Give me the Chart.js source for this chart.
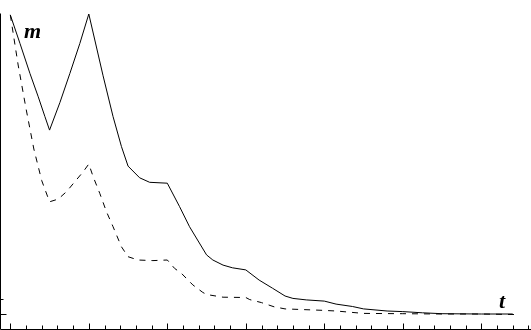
<!DOCTYPE html>
<html><head><meta charset="utf-8">
<script src="https://cdn.jsdelivr.net/npm/chart.js@4/dist/chart.umd.min.js"></script>
<style>html,body{margin:0;padding:0;background:#fff;overflow:hidden}canvas{display:block}</style>
</head><body>
<canvas id="c" width="531" height="330"></canvas>
<script>
// ---- data (t = time, m = quantity) ----
const tSolid = [0, 0.123, 0.25, 0.356, 0.441, 0.5, 0.632, 0.759, 0.886, 1.0, 1.182, 1.309, 1.416, 1.5, 1.648, 1.775, 2.0, 2.156, 2.283, 2.5, 2.58, 2.71, 2.83, 3.0, 3.17, 3.34, 3.5, 3.6, 3.77, 4.0, 4.15, 4.36, 4.5, 4.8, 5.0, 5.25, 5.5, 6.0, 6.40];
const mSolid = [9.97, 9.02, 8.02, 7.24, 6.58, 6.13, 7.05, 8.02, 9.02, 10.0, 7.94, 6.58, 5.58, 4.93, 4.54, 4.39, 4.36, 3.58, 2.91, 1.97, 1.8, 1.63, 1.54, 1.47, 1.13, 0.86, 0.6, 0.52, 0.47, 0.43, 0.33, 0.25, 0.17, 0.1, 0.08, 0.04, 0.01, 0, 0];
const tDashed = [0, 0.1, 0.2, 0.3, 0.4, 0.5, 0.61, 0.717, 0.822, 0.928, 1.0, 1.055, 1.14, 1.225, 1.309, 1.416, 1.5, 1.626, 1.817, 2.0, 2.093, 2.178, 2.325, 2.452, 2.5, 2.71, 3.0, 3.05, 3.2, 3.36, 3.5, 3.7, 4.0, 4.15, 4.5, 5.0, 5.5, 6.0, 6.49];
const mDashed = [9.97, 8.3, 6.85, 5.5, 4.45, 3.74, 3.83, 4.08, 4.41, 4.74, 5.0, 4.58, 4.02, 3.41, 2.91, 2.24, 1.91, 1.8, 1.78, 1.8, 1.52, 1.36, 0.97, 0.72, 0.65, 0.56, 0.55, 0.48, 0.38, 0.24, 0.17, 0.15, 0.12, 0.1, 0.02, 0.01, 0, 0, -0.02];
const xMajorTicks = [0, 1, 2, 3, 4, 5, 6];
const xMinorTicks = [0.2,0.4,0.6,0.8,1.2,1.4,1.6,1.8,2.2,2.4,2.6,2.8,3.2,3.4,3.6,3.8,4.2,4.4,4.6,4.8,5.2,5.4,5.6,5.8,6.2,6.4,6.6];
const yMajorTicks = [0];
const yMinorTicks = [0.5];
const xLabel = 't';
const yLabel = 'm';

const X_MIN = -0.1312, X_MAX = 6.633;
const Y_MIN = -0.5333, Y_MAX = 10.4667, Y_AXIS_TOP = 10.03;

const pts = (xs, ys) => xs.map((x, i) => ({x, y: ys[i]}));

const axesPlugin = {
  id: 'axesPlugin',
  afterDraw(chart) {
    const ctx = chart.ctx, xs = chart.scales.x, ys = chart.scales.y;
    const px = v => Math.round(xs.getPixelForValue(v)) + 0.5;
    const py = v => Math.round(ys.getPixelForValue(v)) + 0.5;
    ctx.save();
    ctx.strokeStyle = '#000';
    ctx.lineWidth = 1;
    ctx.beginPath();
    const ax = px(X_MIN), ay = py(-0.5);
    ctx.moveTo(ax, py(Y_AXIS_TOP)); ctx.lineTo(ax, ay);
    ctx.moveTo(ax, ay); ctx.lineTo(px(X_MAX) + 1, ay);
    xMajorTicks.forEach(v => { ctx.moveTo(px(v), ay); ctx.lineTo(px(v), ay - 6); });
    xMinorTicks.forEach(v => { ctx.moveTo(px(v), ay); ctx.lineTo(px(v), ay - 4); });
    yMajorTicks.forEach(v => { ctx.moveTo(ax, py(v)); ctx.lineTo(ax + 6, py(v)); });
    yMinorTicks.forEach(v => { ctx.moveTo(ax, py(v)); ctx.lineTo(ax + 3, py(v)); });
    ctx.stroke();
    ctx.fillStyle = '#000';
    ctx.font = 'bold italic 22px "Liberation Serif"';
    ctx.textBaseline = 'alphabetic';
    ctx.fillText(yLabel, 24, 38);
    ctx.fillText(xLabel, 499, 308);
    ctx.restore();
  }
};

new Chart(document.getElementById('c'), {
  type: 'scatter',
  data: {
    datasets: [
      { data: pts(tSolid, mSolid), showLine: true, borderColor: '#000', borderWidth: 1, pointRadius: 0, tension: 0, fill: false },
      { data: pts(tDashed, mDashed), showLine: true, borderColor: '#000', borderWidth: 1, borderDash: [6, 6], pointRadius: 0, tension: 0, fill: false }
    ]
  },
  options: {
    responsive: false,
    animation: false,
    devicePixelRatio: 1,
    layout: { padding: 0 },
    plugins: { legend: { display: false }, tooltip: { enabled: false } },
    scales: {
      x: { type: 'linear', min: X_MIN, max: X_MAX, display: false },
      y: { type: 'linear', min: Y_MIN, max: Y_MAX, display: false }
    }
  },
  plugins: [axesPlugin]
});
</script></body></html>
